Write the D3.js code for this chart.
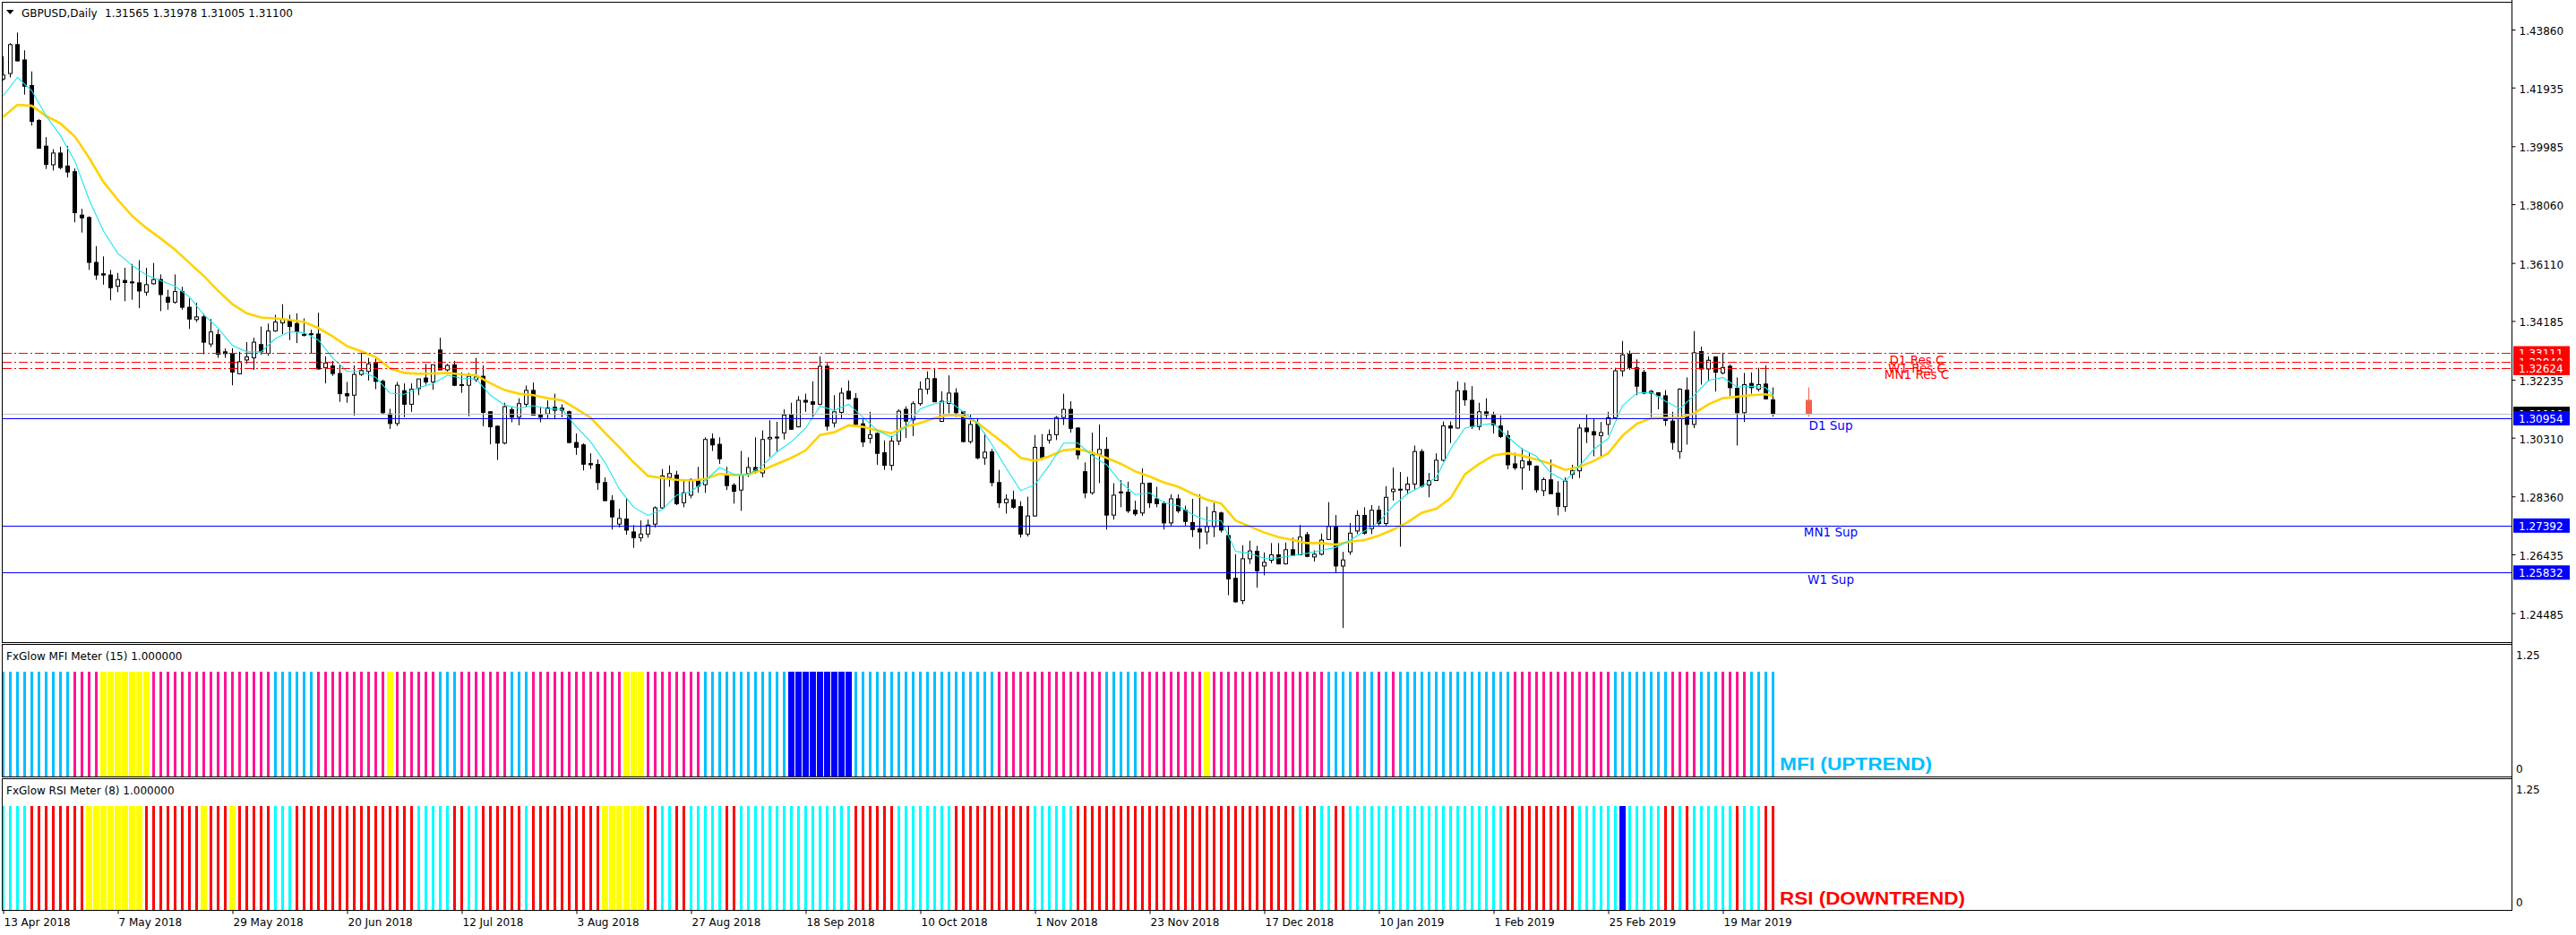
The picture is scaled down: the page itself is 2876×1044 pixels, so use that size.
<!DOCTYPE html>
<html><head><meta charset="utf-8">
<script src="https://cdn.jsdelivr.net/npm/d3@7"></script>
<style>body{margin:0;background:#fff}svg{display:block}</style>
</head><body>
<svg id="c" width="2876" height="1044"></svg>
<script>
// ---------------- DATA ----------------
const symbolTitle = "GBPUSD,Daily";
const lastQuote = [1.31565, 1.31978, 1.31005, 1.31100]; // O H L C of current bar
const priceTicks = [1.43860,1.41935,1.39985,1.38060,1.36110,1.34185,1.32235,1.30310,1.28360,1.26435,1.24485];
const dateLabels = ["13 Apr 2018","7 May 2018","29 May 2018","20 Jun 2018","12 Jul 2018","3 Aug 2018","27 Aug 2018","18 Sep 2018","10 Oct 2018","1 Nov 2018","23 Nov 2018","17 Dec 2018","10 Jan 2019","1 Feb 2019","25 Feb 2019","19 Mar 2019"];
const dateLabelBars = [0,16,32,48,64,80,96,112,128,144,160,176,192,208,224,240];

const opens = [
1.4222,1.4240,1.4336,1.4285,1.4200,1.4084,1.3999,1.3937,1.3976,1.3933,
1.3914,1.3770,1.3762,1.3613,1.3575,1.3571,1.3534,1.3553,1.3548,1.3545,
1.3514,1.3542,1.3556,1.3497,1.3481,1.3516,1.3464,1.3423,1.3432,1.3342,
1.3373,1.3316,1.3311,1.3243,1.3289,1.3296,1.3340,1.3311,1.3385,1.3412,
1.3420,1.3410,1.3374,1.3376,1.3375,1.3263,1.3269,1.3244,1.3177,1.3172,
1.3241,1.3251,1.3281,1.3218,1.3110,1.3078,1.3187,1.3142,1.3194,1.3229,
1.3216,1.3322,1.3256,1.3273,1.3207,1.3205,1.3224,1.3235,1.3117,1.3069,
1.3013,1.3124,1.3099,1.3142,1.3188,1.3108,1.3110,1.3132,1.3129,1.3117,
1.3015,1.3007,1.2945,1.2942,1.2882,1.2822,1.2744,1.2761,1.2718,1.2699,
1.2711,1.2744,1.2798,1.2899,1.2907,1.2815,1.2840,1.2892,1.2875,1.3027,
1.3009,1.2909,1.2873,1.2857,1.2912,1.2932,1.2914,1.3027,1.3033,1.3047,
1.3107,1.3067,1.3155,1.3150,1.3142,1.3268,1.3080,1.3115,1.3185,1.3161,
1.3077,1.3029,1.3045,1.2981,1.2939,1.3020,1.3125,1.3090,1.3144,1.3192,
1.3227,1.3085,1.3145,1.3179,1.3117,1.3018,1.3078,1.2964,1.2984,1.2882,
1.2815,1.2825,1.2802,1.2711,1.2771,1.2999,1.3023,1.3041,1.3098,1.3125,
1.3063,1.2918,1.2848,1.2976,1.2992,1.2774,1.2851,1.2850,1.2790,1.2781,
1.2880,1.2828,1.2812,1.2748,1.2828,1.2790,1.2749,1.2728,1.2718,1.2736,
1.2781,1.2706,1.2564,1.2490,1.2629,1.2654,1.2605,1.2624,1.2642,1.2612,
1.2659,1.2642,1.2709,1.2635,1.2644,1.2693,1.2734,1.2605,1.2652,1.2721,
1.2773,1.2729,1.2790,1.2746,1.2852,1.2860,1.2858,1.2877,1.2985,1.2874,
1.2889,1.2956,1.3070,1.3063,1.3187,1.3155,1.3068,1.3117,1.3105,1.3070,
1.3038,1.2944,1.2931,1.2952,1.2936,1.2855,1.2891,1.2847,1.2802,1.2909,
1.2921,1.3063,1.3051,1.3038,1.3075,1.3097,1.3253,1.3308,1.3263,1.3248,
1.3185,1.3180,1.3170,1.3086,1.2985,1.3189,1.3075,1.3317,1.3259,1.3299,
1.3246,1.3268,1.3195,1.3114,1.3211,1.3192,1.3209,1.31565];
const highs = [
1.4297,1.4341,1.4376,1.4317,1.4247,1.4089,1.4029,1.3989,1.3997,1.3999,
1.3925,1.3791,1.3766,1.3667,1.3633,1.3588,1.3578,1.3595,1.3608,1.3620,
1.3595,1.3611,1.3573,1.3522,1.3573,1.3532,1.3494,1.3479,1.3442,1.3425,
1.3390,1.3327,1.3328,1.3316,1.3348,1.3363,1.3400,1.3410,1.3439,1.3474,
1.3439,1.3444,1.3427,1.3390,1.3446,1.3301,1.3286,1.3274,1.3216,1.3271,
1.3314,1.3296,1.3296,1.3224,1.3127,1.3216,1.3211,1.3211,1.3226,1.3276,
1.3273,1.3363,1.3276,1.3286,1.3248,1.3246,1.3296,1.3271,1.3119,1.3072,
1.3147,1.3132,1.3162,1.3204,1.3214,1.3132,1.3155,1.3177,1.3142,1.3121,
1.3045,1.3012,1.2979,1.2959,1.2899,1.2840,1.2795,1.2828,1.2741,1.2756,
1.2759,1.2803,1.2927,1.2939,1.2921,1.2889,1.2896,1.2934,1.3032,1.3045,
1.3032,1.2934,1.2880,1.2987,1.2966,1.3032,1.3055,1.3089,1.3084,1.3125,
1.3147,1.3169,1.3177,1.3218,1.3301,1.3278,1.3172,1.3197,1.3221,1.3179,
1.3092,1.3117,1.3049,1.3022,1.3037,1.3125,1.3135,1.3152,1.3218,1.3251,
1.3261,1.3185,1.3238,1.3195,1.3119,1.3107,1.3093,1.3046,1.2994,1.2924,
1.2843,1.2855,1.2820,1.2835,1.3040,1.3043,1.3058,1.3103,1.3177,1.3152,
1.3066,1.2949,1.3048,1.3075,1.3033,1.2880,1.2890,1.2885,1.2822,1.2929,
1.2882,1.2868,1.2820,1.2843,1.2843,1.2805,1.2828,1.2843,1.2802,1.2815,
1.2785,1.2739,1.2644,1.2674,1.2689,1.2672,1.2650,1.2681,1.2681,1.2683,
1.2699,1.2741,1.2718,1.2657,1.2713,1.2817,1.2774,1.2652,1.2748,1.2790,
1.2800,1.2807,1.2805,1.2870,1.2932,1.2917,1.2901,1.3005,1.2993,1.2914,
1.2979,1.3085,1.3085,1.3218,1.3214,1.3202,1.3147,1.3162,1.3117,1.3105,
1.3055,1.2981,1.2996,1.2979,1.2939,1.2899,1.2959,1.2887,1.2899,1.2941,
1.3076,1.3110,1.3096,1.3083,1.3117,1.3263,1.3352,1.3320,1.3291,1.3256,
1.3189,1.3182,1.3189,1.3117,1.3195,1.3231,1.3385,1.3333,1.3301,1.3301,
1.3313,1.3274,1.3231,1.3246,1.3248,1.3263,1.3271,1.31978];
const lows = [
1.4217,1.4227,1.4280,1.4170,1.4067,1.3992,1.3923,1.3918,1.3922,1.3895,
1.3746,1.3712,1.3588,1.3555,1.3539,1.3487,1.3514,1.3484,1.3489,1.3461,
1.3502,1.3539,1.3451,1.3456,1.3476,1.3456,1.3392,1.3415,1.3308,1.3332,
1.3296,1.3296,1.3205,1.3241,1.3276,1.3256,1.3306,1.3303,1.3383,1.3375,
1.3355,1.3345,1.3367,1.3311,1.3258,1.3211,1.3236,1.3150,1.3147,1.3104,
1.3236,1.3221,1.3192,1.3107,1.3060,1.3070,1.3099,1.3117,1.3172,1.3207,
1.3190,1.3256,1.3251,1.3202,1.3180,1.3102,1.3216,1.3069,1.3009,1.2957,
1.3009,1.3082,1.3072,1.3132,1.3105,1.3082,1.3094,1.3092,1.3099,1.3012,
1.2974,1.2922,1.2927,1.2858,1.2820,1.2726,1.2733,1.2709,1.2665,1.2686,
1.2699,1.2733,1.2795,1.2868,1.2807,1.2800,1.2830,1.2848,1.2848,1.2987,
1.2944,1.2857,1.2812,1.2788,1.2901,1.2911,1.2899,1.2967,1.2984,1.3025,
1.3057,1.3065,1.3117,1.3097,1.3139,1.3055,1.3065,1.3095,1.3157,1.3072,
1.3000,1.3012,1.2941,1.2924,1.2922,1.3006,1.3030,1.3036,1.3137,1.3175,
1.3149,1.3083,1.3112,1.3100,1.3016,1.3011,1.2959,1.2941,1.2870,1.2798,
1.2779,1.2795,1.2699,1.2703,1.2769,1.2957,1.3011,1.3023,1.3073,1.3048,
1.2959,1.2830,1.2842,1.2880,1.2726,1.2759,1.2800,1.2781,1.2771,1.2771,
1.2798,1.2800,1.2726,1.2736,1.2781,1.2739,1.2701,1.2662,1.2677,1.2701,
1.2716,1.2508,1.2483,1.2478,1.2612,1.2533,1.2574,1.2614,1.2610,1.2610,
1.2639,1.2640,1.2634,1.2620,1.2640,1.2691,1.2584,1.2399,1.2642,1.2711,
1.2709,1.2711,1.2739,1.2736,1.2822,1.2669,1.2842,1.2858,1.2865,1.2833,
1.2887,1.2952,1.3013,1.3060,1.3137,1.3060,1.3056,1.3096,1.3045,1.3030,
1.2926,1.2924,1.2858,1.2921,1.2848,1.2837,1.2845,1.2773,1.2785,1.2894,
1.2897,1.3013,1.2969,1.2969,1.3040,1.3096,1.3234,1.3256,1.3172,1.3175,
1.3097,1.3125,1.3070,1.2991,1.2961,1.3008,1.3063,1.3207,1.3218,1.3184,
1.3241,1.3169,1.3005,1.3083,1.3177,1.3184,1.3157,1.31005];
const closes = [
1.4235,1.4336,1.4282,1.4198,1.4081,1.3992,1.3938,1.3976,1.3928,1.3913,
1.3778,1.3761,1.3613,1.3571,1.3571,1.3529,1.3556,1.3546,1.3545,1.3518,
1.3539,1.3556,1.3506,1.3481,1.3516,1.3464,1.3425,1.3432,1.3348,1.3382,
1.3308,1.3310,1.3249,1.3283,1.3299,1.3348,1.3316,1.3385,1.3415,1.3425,
1.3400,1.3383,1.3372,1.3374,1.3259,1.3279,1.3244,1.3177,1.3170,1.3241,
1.3254,1.3276,1.3218,1.3114,1.3078,1.3205,1.3142,1.3192,1.3226,1.3216,
1.3273,1.3256,1.3271,1.3205,1.3205,1.3235,1.3233,1.3115,1.3067,1.3013,
1.3134,1.3099,1.3144,1.3188,1.3106,1.3099,1.3130,1.3122,1.3122,1.3015,
1.2999,1.2943,1.2941,1.2882,1.2822,1.2768,1.2763,1.2724,1.2699,1.2711,
1.2741,1.2798,1.2904,1.2912,1.2812,1.2848,1.2892,1.2870,1.3025,1.3007,
1.2961,1.2872,1.2853,1.2906,1.2932,1.2916,1.3025,1.3032,1.3032,1.3106,
1.3059,1.3155,1.3149,1.3142,1.3268,1.3069,1.3117,1.3179,1.3160,1.3075,
1.3017,1.3041,1.2979,1.2939,1.3020,1.3119,1.3086,1.3144,1.3192,1.3227,
1.3150,1.3152,1.3179,1.3114,1.3018,1.3075,1.2964,1.2983,1.2882,1.2815,
1.2827,1.2800,1.2711,1.2771,1.2999,1.2964,1.3041,1.3098,1.3125,1.3062,
1.2974,1.2848,1.2974,1.2992,1.2774,1.2840,1.2849,1.2788,1.2778,1.2879,
1.2815,1.2812,1.2748,1.2828,1.2788,1.2753,1.2726,1.2718,1.2736,1.2785,
1.2724,1.2562,1.2486,1.2629,1.2655,1.2589,1.2617,1.2642,1.2612,1.2659,
1.2640,1.2701,1.2637,1.2644,1.2691,1.2736,1.2605,1.2625,1.2714,1.2773,
1.2714,1.2790,1.2746,1.2833,1.2860,1.2858,1.2877,1.2985,1.2870,1.2889,
1.2956,1.3070,1.3063,1.3187,1.3157,1.3068,1.3117,1.3107,1.3073,1.3035,
1.2941,1.2931,1.2954,1.2941,1.2858,1.2892,1.2845,1.2803,1.2887,1.2921,
1.3063,1.3051,1.3040,1.3048,1.3097,1.3253,1.3306,1.3264,1.3202,1.3179,
1.3179,1.3170,1.3088,1.3015,1.3192,1.3075,1.3313,1.3259,1.3288,1.3248,
1.3264,1.3197,1.3114,1.3207,1.3197,1.3207,1.3160,1.31100];

// moving averages at these bars
const maBars = [0,2,4,6,8,10,12,14,16,18,20,22,24,26,28,30,32,34,36,38,40,42,44,46,48,50,52,54,56,58,60,62,64,66,68,70,72,74,76,78,80,82,84,86,88,90,92,94,96,98,100,102,104,106,108,110,112,114,116,118,120,122,124,126,128,130,132,134,136,138,140,142,144,146,148,150,152,154,156,158,160,162,164,166,168,170,172,174,176,178,180,182,184,186,188,190,192,194,196,198,200,202,204,206,208,210,212,214,216,218,220,222,224,226,228,230,232,234,236,238,240,242,244,246,247];
const fastMa = [1.4166,1.4227,1.4183,1.4099,1.4034,1.3950,1.3821,1.3717,1.3643,1.3603,1.3571,1.3552,1.3534,1.3499,1.3439,1.3395,1.3337,1.3316,1.3316,1.3360,1.3383,1.3380,1.3355,1.3296,1.3251,1.3251,1.3231,1.3179,1.3175,1.3197,1.3211,1.3238,1.3228,1.3226,1.3172,1.3139,1.3129,1.3137,1.3127,1.3125,1.3067,1.3017,1.2949,1.2860,1.2800,1.2773,1.2792,1.2840,1.2852,1.2889,1.2932,1.2909,1.2909,1.2939,1.2984,1.3017,1.3063,1.3135,1.3122,1.3142,1.3099,1.3055,1.3032,1.3068,1.3127,1.3144,1.3152,1.3117,1.3078,1.3008,1.2929,1.2855,1.2875,1.2939,1.3013,1.3013,1.2971,1.2941,1.2882,1.2842,1.2848,1.2815,1.2805,1.2776,1.2756,1.2756,1.2654,1.2647,1.2630,1.2632,1.2640,1.2647,1.2657,1.2667,1.2691,1.2721,1.2751,1.2805,1.2845,1.2870,1.2899,1.2993,1.3063,1.3073,1.3078,1.3033,1.2993,1.2969,1.2914,1.2887,1.2937,1.2993,1.3028,1.3137,1.3179,1.3182,1.3152,1.3127,1.3172,1.3221,1.3231,1.3199,1.3202,1.3197,1.3172];
const slowMa = [1.4096,1.4136,1.4133,1.4099,1.4074,1.4031,1.3960,1.3880,1.3821,1.3767,1.3727,1.3692,1.3655,1.3611,1.3568,1.3519,1.3474,1.3444,1.3430,1.3427,1.3422,1.3415,1.3395,1.3367,1.3335,1.3318,1.3298,1.3261,1.3246,1.3243,1.3244,1.3246,1.3241,1.3238,1.3212,1.3189,1.3177,1.3172,1.3162,1.3155,1.3127,1.3097,1.3047,1.2999,1.2949,1.2904,1.2897,1.2891,1.2889,1.2894,1.2911,1.2907,1.2909,1.2924,1.2944,1.2964,1.2989,1.3040,1.3049,1.3072,1.3067,1.3055,1.3045,1.3068,1.3080,1.3096,1.3107,1.3103,1.3080,1.3043,1.3006,1.2964,1.2954,1.2969,1.2989,1.2994,1.2981,1.2964,1.2944,1.2919,1.2902,1.2882,1.2868,1.2845,1.2825,1.2812,1.2756,1.2736,1.2716,1.2701,1.2691,1.2681,1.2681,1.2676,1.2686,1.2691,1.2706,1.2726,1.2750,1.2782,1.2795,1.2830,1.2909,1.2944,1.2972,1.2979,1.2971,1.2959,1.2944,1.2924,1.2934,1.2954,1.2979,1.3038,1.3077,1.3096,1.3097,1.3097,1.3112,1.3142,1.3162,1.3167,1.3172,1.3175,1.3169];

// horizontal levels
const resistanceNames = ["D1 Res C","W1 Res C","MN1 Res C"];
const resistancePrices = [1.33111, 1.32840, 1.32624];
const supportNames = ["D1 Sup","MN1 Sup","W1 Sup"];
const supportPrices = [1.30954, 1.27392, 1.25832];

// meters: runs of [state, count]
const meterValue = 1.0;
const meterTicks = [1.25, 0];
const mfiRuns = [["up",10],["down",4],["flat",7],["down",17],["up",6],["down",10],["flat",1],["down",6],["up",3],["down",7],["up",3],["down",13],["flat",3],["down",8],["up",12],["strong",9],["up",20],["down",15],["up",5],["down",9],["flat",1],["down",16],["up",4],["down",1],["up",2],["down",1],["up",1],["down",1],["up",16],["down",14],["up",8],["down",4],["up",3],["down",4],["up",4]];
const rsiRuns = [["up",4],["down",8],["flat",8],["down",8],["flat",1],["down",3],["flat",1],["down",5],["up",3],["down",17],["up",5],["down",2],["up",2],["down",6],["up",1],["down",10],["flat",6],["down",2],["up",2],["down",2],["up",5],["down",2],["up",16],["down",6],["up",8],["down",11],["up",6],["down",31],["up",1],["down",2],["up",2],["down",2],["up",22],["down",10],["up",6],["strong",1],["up",5],["down",2],["up",1],["down",1],["up",6],["down",1],["up",3],["down",2]];
const mfiTitle = "FxGlow MFI Meter (15) 1.000000";
const rsiTitle = "FxGlow RSI Meter (8) 1.000000";
const mfiStatus = "MFI (UPTREND)";
const rsiStatus = "RSI (DOWNTREND)";

// ---------------- LAYOUT ----------------
const W = 2876, H = 1044;
const FONT = "'DejaVu Sans', Verdana, sans-serif";
const axisX = 2804.5, leftX = 2.5;
const mainTop = 2.5, mainBottom = 717.5;
const mfiTop = 719.5, mfiBottom = 867.5;
const rsiTop = 869.5, rsiBottom = 1016.5;

const svg = d3.select("#c");
svg.append("rect").attr("width", W).attr("height", H).attr("fill", "#fff");

const xBar = d3.scaleLinear().domain([0, 247]).range([3.5, 1979.5]);
const yPrice = d3.scaleLinear().domain([1.43860, 1.24485]).range([33, 684.6]);
const yMfi = d3.scaleLinear().domain([0, 1.25]).range([867, 721]);
const yRsi = d3.scaleLinear().domain([0, 1.25]).range([1016, 871]);

svg.append("defs").append("clipPath").attr("id", "mainClip")
  .append("rect").attr("x", 3).attr("y", 3).attr("width", axisX - 3.5).attr("height", mainBottom - 3.5);

const main = svg.append("g").attr("clip-path", "url(#mainClip)");

// candles
const bars = d3.range(opens.length).map(i => ({i, o: opens[i], h: highs[i], l: lows[i], c: closes[i]}));
main.append("g").selectAll("line").data(bars).join("line")
  .attr("x1", d => xBar(d.i)).attr("x2", d => xBar(d.i))
  .attr("y1", d => yPrice(d.h)).attr("y2", d => yPrice(d.l))
  .attr("stroke", "#000").attr("stroke-width", 1);
main.append("g").selectAll("rect").data(bars).join("rect")
  .attr("x", d => xBar(d.i) - 2).attr("width", 4)
  .attr("y", d => yPrice(Math.max(d.o, d.c)))
  .attr("height", d => Math.max(1, Math.abs(yPrice(d.o) - yPrice(d.c))))
  .attr("fill", d => d.c >= d.o ? "#fff" : "#000")
  .attr("stroke", "#000").attr("stroke-width", 1);

// moving averages
const maLine = vals => d3.line().x((b, k) => xBar(b)).y((b, k) => yPrice(vals[k]))(maBars);
main.append("path").attr("d", maLine(slowMa)).attr("fill", "none").attr("stroke", "#ffd200").attr("stroke-width", 2.6);
main.append("path").attr("d", maLine(fastMa)).attr("fill", "none").attr("stroke", "#19e6ee").attr("stroke-width", 1.1);

// projected current bar (red)
const projIndex = 252;
main.append("line").attr("x1", xBar(projIndex)).attr("x2", xBar(projIndex))
  .attr("y1", yPrice(lastQuote[1])).attr("y2", yPrice(lastQuote[2])).attr("stroke", "#f5604a").attr("stroke-width", 1);
main.append("rect").attr("x", xBar(projIndex) - 3.5).attr("width", 7)
  .attr("y", yPrice(lastQuote[0])).attr("height", yPrice(lastQuote[3]) - yPrice(lastQuote[0]))
  .attr("fill", "#f5604a");

// price line (bid)
main.append("line").attr("x1", leftX).attr("x2", axisX)
  .attr("y1", Math.round(yPrice(lastQuote[3])) + 0.5).attr("y2", Math.round(yPrice(lastQuote[3])) + 0.5)
  .attr("stroke", "#c0c0c0").attr("stroke-width", 1).attr("shape-rendering", "crispEdges");

// support lines
main.append("g").selectAll("line").data(supportPrices).join("line")
  .attr("x1", leftX).attr("x2", axisX)
  .attr("y1", d => Math.round(yPrice(d)) + 0.5).attr("y2", d => Math.round(yPrice(d)) + 0.5)
  .attr("stroke", "#0000ff").attr("stroke-width", 1).attr("shape-rendering", "crispEdges");
// resistance lines
main.append("g").selectAll("line").data(resistancePrices).join("line")
  .attr("x1", leftX).attr("x2", axisX)
  .attr("y1", d => Math.round(yPrice(d)) + 0.5).attr("y2", d => Math.round(yPrice(d)) + 0.5)
  .attr("stroke", "#ff0000").attr("stroke-width", 1).attr("stroke-dasharray", "10,3,2,3")
  .attr("shape-rendering", "crispEdges");

// level texts
main.append("g").selectAll("text").data(supportNames).join("text")
  .attr("x", 2044).attr("y", (d, k) => yPrice(supportPrices[k]) + 12.5)
  .attr("text-anchor", "middle").attr("font-family", FONT).attr("font-size", 13.5)
  .attr("fill", "#0000ff").text(d => d);
main.append("g").selectAll("text").data(resistanceNames).join("text")
  .attr("x", 2140).attr("y", (d, k) => yPrice(resistancePrices[k]) + 12.5)
  .attr("text-anchor", "middle").attr("font-family", FONT).attr("font-size", 13.5)
  .attr("fill", "#ff0000").text(d => d);

// ---------- meters ----------
function expandRuns(runs) { const out = []; runs.forEach(([s, n]) => { for (let k = 0; k < n; k++) out.push(s); }); return out; }
const mfiColors = {up: "#00bfff", down: "#ff1493", flat: "#ffff00", strong: "#0000ff"};
const rsiColors = {up: "#00ffff", down: "#ff0000", flat: "#ffff00", strong: "#0000ff"};
const barWidth = s => (s === "flat" || s === "strong") ? 7 : 3;
function drawMeter(states, colors, yS) {
  svg.append("g").attr("shape-rendering", "crispEdges").selectAll("rect").data(states).join("rect")
    .attr("x", (s, i) => xBar(i) - barWidth(s) / 2).attr("width", s => barWidth(s))
    .attr("y", yS(meterValue)).attr("height", yS(0) - yS(meterValue))
    .attr("fill", s => colors[s]);
}
drawMeter(expandRuns(mfiRuns), mfiColors, yMfi);
drawMeter(expandRuns(rsiRuns), rsiColors, yRsi);

svg.append("text").attr("x", 7).attr("y", 737).attr("font-family", FONT).attr("font-size", 12).text(mfiTitle);
svg.append("text").attr("x", 7).attr("y", 887).attr("font-family", FONT).attr("font-size", 12).text(rsiTitle);
svg.append("text").attr("x", 1987).attr("y", 860).attr("font-family", "'Liberation Sans', Arial, sans-serif")
  .attr("font-weight", "bold").attr("font-size", 20).attr("textLength", 170).attr("lengthAdjust", "spacingAndGlyphs")
  .attr("fill", "#00bfff").text(mfiStatus);
svg.append("text").attr("x", 1987).attr("y", 1010).attr("font-family", "'Liberation Sans', Arial, sans-serif")
  .attr("font-weight", "bold").attr("font-size", 20).attr("textLength", 207).attr("lengthAdjust", "spacingAndGlyphs")
  .attr("fill", "#ff0000").text(rsiStatus);

// panel value labels
[yMfi, yRsi].forEach(yS => {
  svg.append("g").selectAll("text").data(meterTicks).join("text")
    .attr("x", 2809).attr("y", d => d > 0 ? yS(d) + 15 : yS(d) - 4)
    .attr("font-family", FONT).attr("font-size", 12).text(d => d3.format("~g")(d));
});

// ---------- frames ----------
const frame = (y0, y1) => svg.append("rect").attr("x", leftX).attr("y", y0).attr("width", axisX - leftX).attr("height", y1 - y0)
  .attr("fill", "none").attr("stroke", "#000").attr("stroke-width", 1);
frame(mainTop, mainBottom); frame(mfiTop, mfiBottom); frame(rsiTop, rsiBottom);
svg.append("line").attr("x1", axisX).attr("x2", axisX).attr("y1", 0).attr("y2", rsiBottom).attr("stroke", "#000");

// ---------- price axis ----------
const pAxis = svg.append("g").attr("transform", `translate(${axisX},0)`)
  .call(d3.axisRight(yPrice).tickValues(priceTicks).tickSize(4).tickPadding(4).tickFormat(d3.format(".5f")));
pAxis.select(".domain").remove();
pAxis.selectAll("text").attr("font-family", FONT).attr("font-size", 12).attr("fill", "#000").attr("dy", "0.45em");
pAxis.selectAll("line").attr("stroke", "#000");

// axis price boxes
function priceBox(price, fill) {
  const yc = yPrice(price);
  svg.append("rect").attr("x", axisX + 1.5).attr("y", yc - 8).attr("width", 63).attr("height", 16).attr("fill", fill);
  svg.append("text").attr("x", axisX + 7.5).attr("y", yc + 5).attr("font-family", FONT).attr("font-size", 12)
    .attr("fill", "#fff").text(d3.format(".5f")(price));
}
resistancePrices.forEach(p => priceBox(p, "#ff0000"));
priceBox(lastQuote[3], "#000000");
supportPrices.forEach(p => priceBox(p, "#0000ff"));

// ---------- time axis ----------
const tAxis = svg.append("g").attr("transform", `translate(0,${rsiBottom})`)
  .call(d3.axisBottom(xBar).tickValues(dateLabelBars).tickSize(4).tickPadding(5).tickFormat((d, k) => dateLabels[k]));
tAxis.select(".domain").remove();
tAxis.selectAll("line").attr("stroke", "#000");
tAxis.selectAll("text").attr("text-anchor", "start").attr("x", 0.5)
  .attr("font-family", FONT).attr("font-size", 12).attr("fill", "#000");

// ---------- title ----------
svg.append("path").attr("d", "M7,11 L15.5,11 L11.25,16 Z").attr("fill", "#000");
svg.append("text").attr("x", 24).attr("y", 18.5).attr("font-family", FONT).attr("font-size", 12).text(symbolTitle);
svg.append("text").attr("x", 117).attr("y", 18.5).attr("font-family", FONT).attr("font-size", 12)
  .text(lastQuote.map(d3.format(".5f")).join(" "));
</script>
</body></html>
